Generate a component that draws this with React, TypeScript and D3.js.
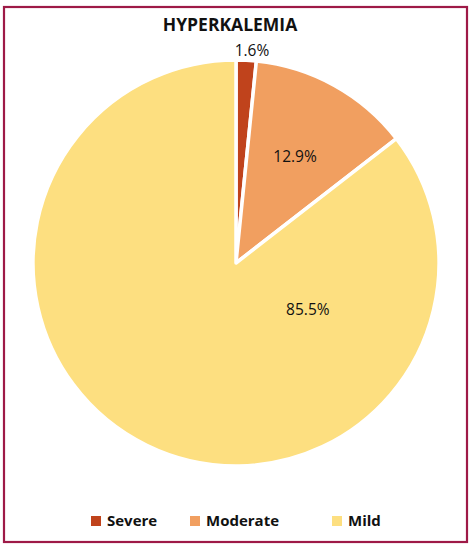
import * as d3 from "d3";

const categories = ["Severe", "Moderate", "Mild"];
const values = [1.6, 12.9, 85.5];
const colors = ["#c0431c", "#f19f60", "#fddf80"];
const valueLabels = ["1.6%", "12.9%", "85.5%"];

// label placement: angle (deg, clockwise from top) and radius factor
const labelPlace = [
  { angle: 4.3, r: 1.05 },
  { angle: 29, r: 0.6 },
  { angle: 122.6, r: 0.42 },
];

const W = 473;
const H = 547;
const cx = 236;
const cy = 263;
const R = 203;
const FONT = "'Open Sans', 'DejaVu Sans', sans-serif";

export default function App() {
  const pie = d3
    .pie<number>()
    .sort(null)
    .value((d) => d);
  const arcs = pie(values);
  const arc = d3.arc<d3.PieArcDatum<number>>().innerRadius(0).outerRadius(R);

  const legendX = d3
    .scaleOrdinal<string, number>()
    .domain(categories)
    .range([91, 190, 332]);

  return (
    <svg
      width={W}
      height={H}
      style={{ position: "absolute", left: 0, top: 0, background: "#fff" }}
      fontFamily={FONT}
    >
      <rect
        x={4}
        y={7}
        width={463}
        height={535}
        fill="none"
        stroke="#9e1a47"
        strokeWidth={2.2}
      />
      <text
        x={230}
        y={31}
        textAnchor="middle"
        fontWeight="bold"
        fontSize={17.5}
        fill="#111"
      >
        HYPERKALEMIA
      </text>
      <g transform={`translate(${cx},${cy})`}>
        {arcs.map((a, i) => (
          <path
            key={categories[i]}
            d={arc(a) || ""}
            fill={colors[i]}
            stroke="#fff"
            strokeWidth={3.5}
            strokeLinejoin="round"
          />
        ))}
        {valueLabels.map((t, i) => {
          const ang = (labelPlace[i].angle * Math.PI) / 180;
          const r = R * labelPlace[i].r;
          return (
            <text
              key={t}
              x={r * Math.sin(ang)}
              y={-r * Math.cos(ang)}
              textAnchor="middle"
              dominantBaseline="central"
              fontSize={15.5}
              fill="#111"
            >
              {t}
            </text>
          );
        })}
      </g>
      <g>
        {categories.map((c, i) => (
          <g key={c} transform={`translate(${legendX(c)},516)`}>
            <rect width={10} height={10} fill={colors[i]} />
            <text
              x={16}
              y={10}
              fontSize={15}
              fontWeight="bold"
              fill="#111"
            >
              {c}
            </text>
          </g>
        ))}
      </g>
    </svg>
  );
}
